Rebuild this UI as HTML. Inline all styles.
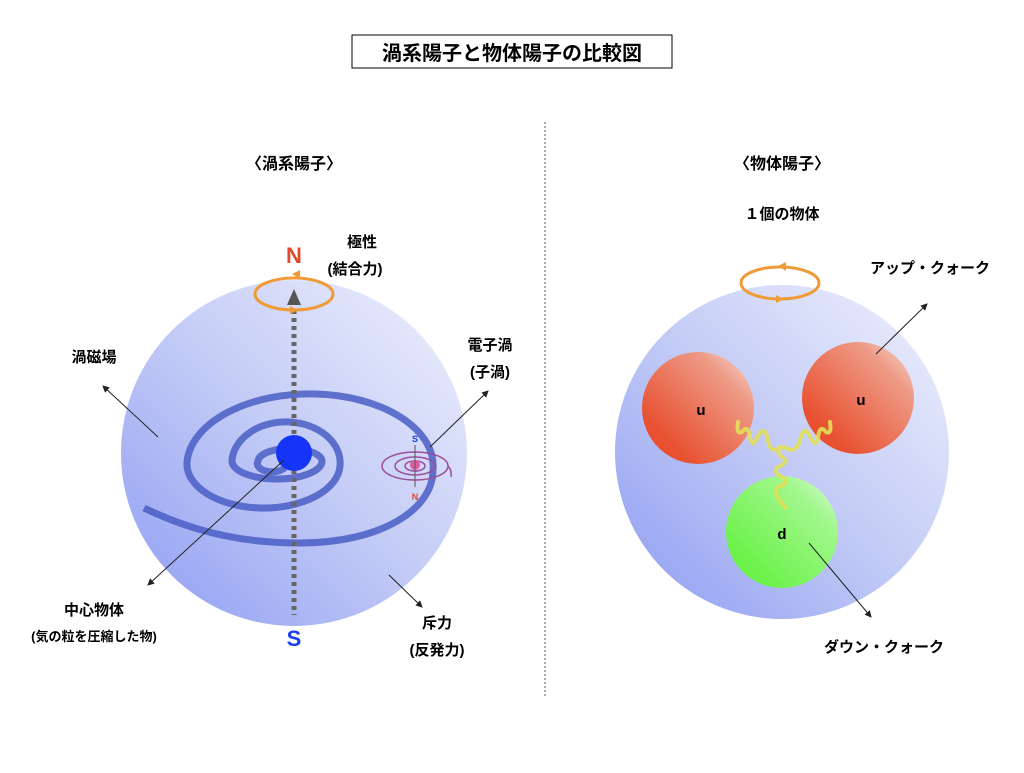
<!DOCTYPE html>
<html><head><meta charset="utf-8"><style>
html,body{margin:0;padding:0;background:#fff;}
svg text{font-family:"Liberation Sans","Noto Sans CJK JP",sans-serif;font-weight:bold;}
</style></head><body>
<svg width="1024" height="768" viewBox="0 0 1024 768" xmlns="http://www.w3.org/2000/svg">
<defs>
<linearGradient id="bg" x1="0" y1="1" x2="1" y2="0">
<stop offset="0" stop-color="#8d9cf2"/><stop offset="0.5" stop-color="#c3cbf6"/><stop offset="1" stop-color="#f0f2fd"/>
</linearGradient>
<linearGradient id="red" x1="0" y1="1" x2="1" y2="0">
<stop offset="0.2" stop-color="#e8502f"/><stop offset="0.75" stop-color="#ee9a86"/><stop offset="1" stop-color="#f7dcd4"/>
</linearGradient>
<linearGradient id="grn" x1="0" y1="1" x2="1" y2="0">
<stop offset="0.2" stop-color="#6cf24a"/><stop offset="0.75" stop-color="#a2f78d"/><stop offset="1" stop-color="#e2fde0"/>
</linearGradient>
<marker id="ah" markerWidth="7" markerHeight="7" refX="6" refY="3.5" orient="auto"><path d="M0,0 L7,3.5 L0,7 z" fill="#222"/></marker>
</defs>
<rect x="352" y="35" width="320" height="33" fill="#fff" stroke="#000" stroke-width="1"/>
<text x="512" y="60" font-size="20" text-anchor="middle">渦系陽子と物体陽子の比較図</text>
<line x1="545" y1="122" x2="545" y2="698" stroke="#555" stroke-width="1" stroke-dasharray="2,2"/>

<text x="294" y="169" font-size="16" text-anchor="middle">〈渦系陽子〉</text>
<text x="782" y="169" font-size="16" text-anchor="middle">〈物体陽子〉</text>
<text x="782" y="219" font-size="15" text-anchor="middle">１個の物体</text>

<!-- left sphere -->
<circle cx="294" cy="453" r="173" fill="url(#bg)"/>
<path d="M144,508 C200,535 250,543 300,543 C380,543 433,510 433,470 A123,72 0 0 0 187,462 A76.5,44 0 0 0 340,466 A54,41 0 0 0 232,460 A45,18 0 0 0 322,462 A32,13 0 0 0 258,461 A14,8 0 0 0 286,466" fill="none" stroke="#4a5ec4" stroke-width="7" stroke-opacity="0.85"/>
<line x1="294" y1="310" x2="294" y2="615" stroke="#666" stroke-width="5" stroke-dasharray="4,4"/>
<path d="M287,305 L294,289 L301,305 z" fill="#555"/>
<circle cx="294" cy="453" r="18" fill="#1434f8"/>
<ellipse cx="294" cy="294" rx="39" ry="16" fill="none" stroke="#f09a38" stroke-width="3"/>
<path d="M300,270 L292,274 L300,279 z" fill="#f09a38"/>
<path d="M290,306 L298,310 L290,314 z" fill="#f09a38"/>
<text x="294" y="263" font-size="22" fill="#e24a2a" text-anchor="middle">N</text>
<text x="294" y="646" font-size="22" fill="#1a3ef0" text-anchor="middle">S</text>
<!-- small spiral -->
<g fill="none" stroke="#9a4f9a" stroke-width="1.5">
<ellipse cx="415" cy="466" rx="33" ry="14"/>
<ellipse cx="415" cy="466" rx="20" ry="9"/>
<ellipse cx="415" cy="466" rx="10" ry="5"/>
<path d="M448,466 Q452,470 451,477"/>
</g>
<circle cx="415" cy="465" r="5" fill="#e05aa0"/>
<line x1="415" y1="445" x2="415" y2="487" stroke="#555" stroke-width="1"/>
<text x="415" y="442" font-size="9" fill="#1a3ef0" text-anchor="middle">S</text>
<text x="415" y="500" font-size="9" fill="#e24a2a" text-anchor="middle">N</text>
<!-- leader lines left -->
<line x1="158" y1="437" x2="103" y2="386" stroke="#222" marker-end="url(#ah)"/>
<line x1="284" y1="460" x2="148" y2="585" stroke="#222" marker-end="url(#ah)"/>
<line x1="430" y1="447" x2="488" y2="391" stroke="#222" marker-end="url(#ah)"/>
<line x1="389" y1="575" x2="422" y2="607" stroke="#222" marker-end="url(#ah)"/>
<text x="362" y="247" font-size="15" text-anchor="middle">極性</text>
<text x="355" y="274" font-size="15" text-anchor="middle">(結合力)</text>
<text x="94" y="362" font-size="15" text-anchor="middle">渦磁場</text>
<text x="490" y="350" font-size="15" text-anchor="middle">電子渦</text>
<text x="490" y="377" font-size="15" text-anchor="middle">(子渦)</text>
<text x="94" y="615" font-size="15" text-anchor="middle">中心物体</text>
<text x="94" y="641" font-size="13" text-anchor="middle">(気の粒を圧縮した物)</text>
<text x="437" y="628" font-size="15" text-anchor="middle">斥力</text>
<text x="437" y="655" font-size="15" text-anchor="middle">(反発力)</text>

<!-- right sphere -->
<circle cx="782" cy="452" r="167" fill="url(#bg)"/>
<ellipse cx="780" cy="283" rx="39" ry="16" fill="none" stroke="#f09a38" stroke-width="3"/>
<path d="M786,262 L778,266 L786,271 z" fill="#f09a38"/>
<path d="M776,295 L784,299 L776,303 z" fill="#f09a38"/>
<circle cx="698" cy="408" r="56" fill="url(#red)"/>
<circle cx="858" cy="398" r="56" fill="url(#red)"/>
<circle cx="782" cy="532" r="56" fill="url(#grn)"/>
<g fill="none" stroke="#e2e05a" stroke-width="4" stroke-linecap="round" opacity="0.9">
<path d="M738,422 Q736,435 742,432 Q748,424 750,437 Q752,450 758,436 Q764,424 768,440 Q770,455 780,447"/>
<path d="M830,422 Q832,435 826,432 Q820,424 818,437 Q816,450 810,436 Q804,424 800,440 Q796,455 784,447"/>
<path d="M782,447 Q775,452 782,457 Q790,462 778,467 Q772,472 782,477 Q792,482 778,487 Q772,494 786,508"/>
</g>
<text x="701" y="415" font-size="15" text-anchor="middle">u</text>
<text x="861" y="405" font-size="15" text-anchor="middle">u</text>
<text x="782" y="539" font-size="15" text-anchor="middle">d</text>
<line x1="876" y1="354" x2="927" y2="304" stroke="#222" marker-end="url(#ah)"/>
<line x1="809" y1="543" x2="871" y2="617" stroke="#222" marker-end="url(#ah)"/>
<text x="930" y="273" font-size="15" text-anchor="middle">アップ・クォーク</text>
<text x="884" y="652" font-size="15" text-anchor="middle">ダウン・クォーク</text>
</svg>
</body></html>
